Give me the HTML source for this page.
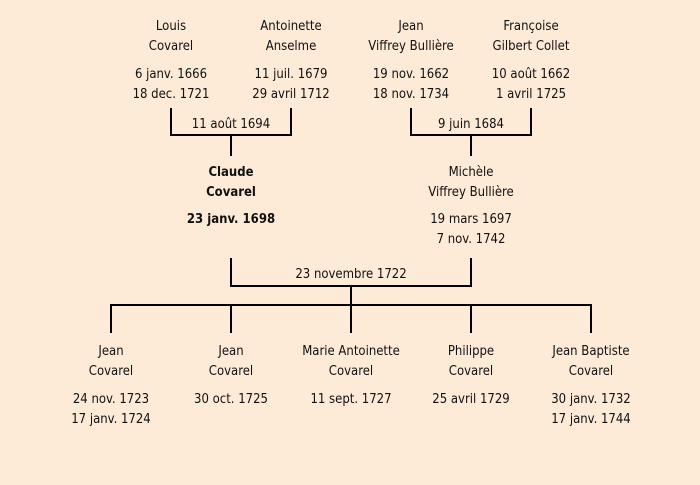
<!DOCTYPE html>
<html><head><meta charset="utf-8"><style>
html,body{margin:0;padding:0}
body{width:700px;height:485px;background:#fdebd8;position:relative;overflow:hidden;font-family:"DejaVu Sans Condensed","Liberation Sans",sans-serif;font-size:13px;color:#111}
.t{position:absolute;transform:translateX(-50%);white-space:nowrap;text-align:center;line-height:20px}
.b{font-weight:bold}
.l{position:absolute;background:#000}
</style></head><body>
<div class="t" style="left:171px;top:17px">Louis<br>Covarel</div>
<div class="t" style="left:171px;top:65px">6 janv. 1666<br>18 dec. 1721</div>
<div class="t" style="left:291px;top:17px">Antoinette<br>Anselme</div>
<div class="t" style="left:291px;top:65px">11 juil. 1679<br>29 avril 1712</div>
<div class="t" style="left:411px;top:17px">Jean<br>Viffrey Bullière</div>
<div class="t" style="left:411px;top:65px">19 nov. 1662<br>18 nov. 1734</div>
<div class="t" style="left:531px;top:17px">Françoise<br>Gilbert Collet</div>
<div class="t" style="left:531px;top:65px">10 août 1662<br>1 avril 1725</div>
<div class="l" style="left:170px;top:108px;width:2px;height:28px"></div>
<div class="l" style="left:290px;top:108px;width:2px;height:28px"></div>
<div class="l" style="left:170px;top:134px;width:122px;height:2px"></div>
<div class="l" style="left:230px;top:135px;width:2px;height:21px"></div>
<div class="t" style="left:231px;top:115px">11 août 1694</div>
<div class="l" style="left:410px;top:108px;width:2px;height:28px"></div>
<div class="l" style="left:530px;top:108px;width:2px;height:28px"></div>
<div class="l" style="left:410px;top:134px;width:122px;height:2px"></div>
<div class="l" style="left:470px;top:135px;width:2px;height:21px"></div>
<div class="t" style="left:471px;top:115px">9 juin 1684</div>
<div class="t b" style="left:231px;top:163px">Claude<br>Covarel</div>
<div class="t b" style="left:231px;top:210px">23 janv. 1698</div>
<div class="t" style="left:471px;top:163px">Michèle<br>Viffrey Bullière</div>
<div class="t" style="left:471px;top:210px">19 mars 1697<br>7 nov. 1742</div>
<div class="l" style="left:230px;top:258px;width:2px;height:29px"></div>
<div class="l" style="left:470px;top:258px;width:2px;height:29px"></div>
<div class="l" style="left:230px;top:285px;width:242px;height:2px"></div>
<div class="t" style="left:351px;top:265px">23 novembre 1722</div>
<div class="l" style="left:350px;top:286px;width:2px;height:20px"></div>
<div class="l" style="left:110px;top:304px;width:482px;height:2px"></div>
<div class="l" style="left:110px;top:305px;width:2px;height:28px"></div>
<div class="l" style="left:230px;top:305px;width:2px;height:28px"></div>
<div class="l" style="left:350px;top:305px;width:2px;height:28px"></div>
<div class="l" style="left:470px;top:305px;width:2px;height:28px"></div>
<div class="l" style="left:590px;top:305px;width:2px;height:28px"></div>
<div class="t" style="left:111px;top:342px">Jean<br>Covarel</div>
<div class="t" style="left:111px;top:390px">24 nov. 1723<br>17 janv. 1724</div>
<div class="t" style="left:231px;top:342px">Jean<br>Covarel</div>
<div class="t" style="left:231px;top:390px">30 oct. 1725</div>
<div class="t" style="left:351px;top:342px">Marie Antoinette<br>Covarel</div>
<div class="t" style="left:351px;top:390px">11 sept. 1727</div>
<div class="t" style="left:471px;top:342px">Philippe<br>Covarel</div>
<div class="t" style="left:471px;top:390px">25 avril 1729</div>
<div class="t" style="left:591px;top:342px">Jean Baptiste<br>Covarel</div>
<div class="t" style="left:591px;top:390px">30 janv. 1732<br>17 janv. 1744</div>
</body></html>
